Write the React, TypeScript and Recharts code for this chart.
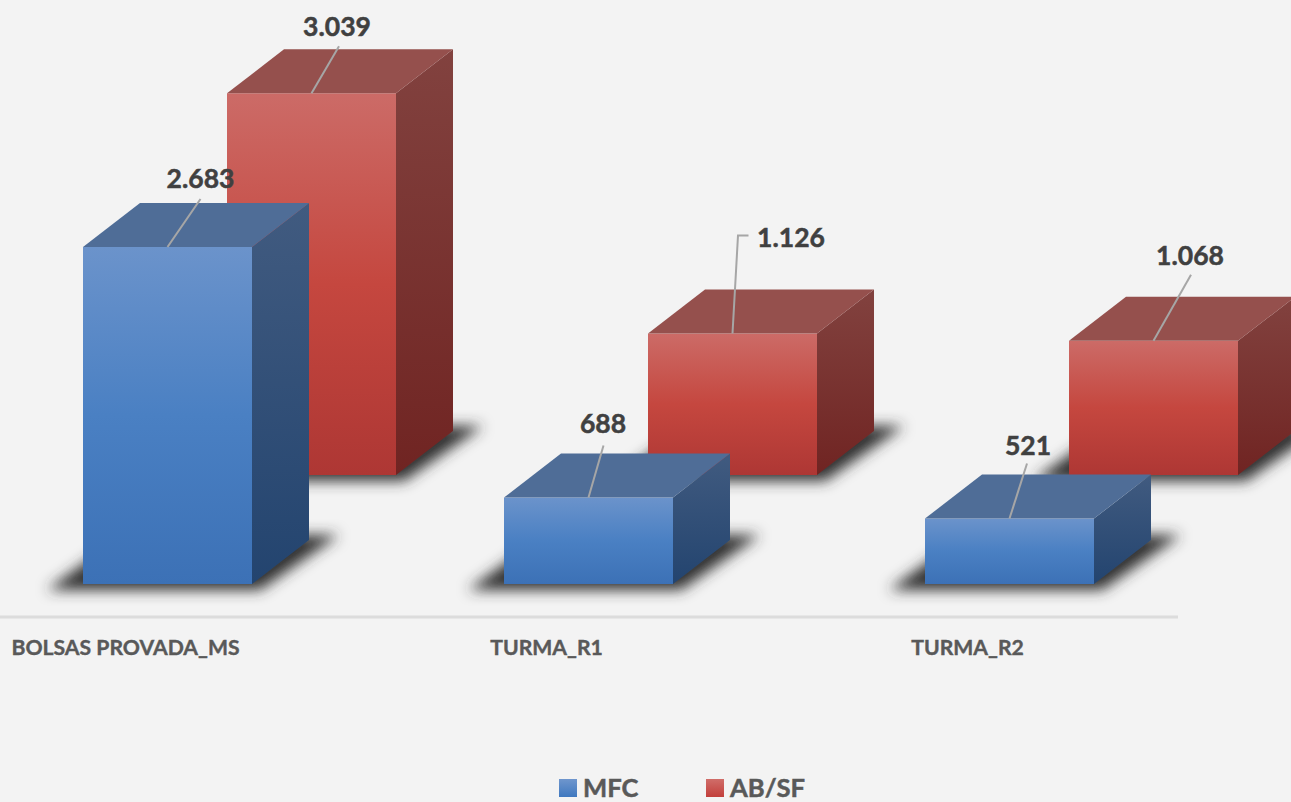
import React from 'react';
import { BarChart, Bar, XAxis, YAxis, Legend, LabelList } from 'recharts';

const categories = ['BOLSAS PROVADA_MS', 'TURMA_R1', 'TURMA_R2'];
const mfcValues = [2683, 688, 521];
const abSfValues = [3039, 1126, 1068];

const chartData = categories.map((name, i) => ({
  name,
  mfc: mfcValues[i],
  abSf: abSfValues[i],
}));

// leader line points and text centre, relative to the middle of the bar's top front edge
const mfcLeaders = [
  { line: [[33, -48]], text: [33, -69] },
  { line: [[15, -52]], text: [14.5, -75] },
  { line: [[17.5, -55]], text: [18.5, -74] },
];
const abSfLeaders = [
  { line: [[27.5, -47]], text: [25.5, -67] },
  { line: [[5.5, -98], [16, -98]], text: [58.5, -97] },
  { line: [[37.5, -66]], text: [36.5, -86] },
];

const FONT = 'Lato, Carlito, sans-serif';
const DEPTH_X = 57;
const DEPTH_Y = 44;

const formatPt = (v: number) => String(v).replace(/\B(?=(\d{3})+$)/g, '.');

const Box3D = ({ x, y, width, height, shiftX, lift, front, side, top }: any) => {
  const l = x + shiftX;
  const r = l + width;
  const t = y - lift;
  const b = t + height;
  const dx = DEPTH_X;
  const dy = DEPTH_Y;
  return (
    <g>
      <polygon
        points={`${l - 36},${b + 6} ${r + 8},${b + 6} ${r + dx + 30},${b - dy - 5} ${l + 40},${b - dy - 5}`}
        fill="#303030"
        filter="url(#floorBlur)"
      />
      <rect x={l} y={t} width={width} height={height} fill={`url(#${front})`} />
      <polygon points={`${r},${t} ${r + dx},${t - dy} ${r + dx},${b - dy} ${r},${b}`} fill={`url(#${side})`} />
      <polygon points={`${l},${t} ${l + dx},${t - dy} ${r + dx},${t - dy} ${r},${t}`} fill={top} />
    </g>
  );
};

const leaderLabel = (leaders: any[], shiftX: number, lift: number) => (props: any) => {
  const { x, y, width, value, index } = props;
  const ax = x + shiftX + width / 2;
  const ay = y - lift;
  const item = leaders[index];
  const pts = [[0, 0], ...item.line].map((p) => `${ax + p[0]},${ay + p[1]}`).join(' ');
  return (
    <g>
      <polyline points={pts} fill="none" stroke="#a6a6a6" strokeWidth={2} />
      <text
        x={ax + item.text[0]}
        y={ay + item.text[1]}
        textAnchor="middle"
        dominantBaseline="central"
        fontFamily={FONT}
        fontWeight={700}
        fontSize={26.5}
        fill="#404040"
        stroke="#404040"
        strokeWidth={0.5}
      >
        {formatPt(value)}
      </text>
    </g>
  );
};

const legendItems = [
  { name: 'MFC', swatch: 'linear-gradient(#6f96cd, #3f78bf)', left: 559 },
  { name: 'AB/SF', swatch: 'linear-gradient(#d06d69, #c23f3b)', left: 706 },
];

const LegendContent = () => (
  <div style={{ position: 'relative', width: 1291, height: 30 }}>
    {legendItems.map((it) => (
      <div key={it.name} style={{ position: 'absolute', left: it.left, top: 0, height: 30, display: 'flex', alignItems: 'center' }}>
        <span style={{ display: 'inline-block', width: 18, height: 18, marginTop: 2, background: it.swatch }} />
        <span style={{ marginLeft: 6, fontFamily: FONT, fontWeight: 700, fontSize: 25.6, color: '#595959', WebkitTextStroke: '0.5px #595959' }}>{it.name}</span>
      </div>
    ))}
  </div>
);

export default function App() {
  return (
    <div style={{ position: 'absolute', left: 0, top: 0, width: 1291, height: 802, background: '#f3f3f3', overflow: 'hidden' }}>
      <BarChart
        width={1291}
        height={802}
        data={chartData}
        barSize={169}
        barGap={-169}
        margin={{ top: 0, right: 113, bottom: 0, left: -85 }}
      >
        <defs>
          <linearGradient id="blueFront" x1="0" y1="0" x2="0" y2="1">
            <stop offset="0%" stopColor="#6b93cb" />
            <stop offset="50%" stopColor="#4a80c3" />
            <stop offset="100%" stopColor="#3c71b6" />
          </linearGradient>
          <linearGradient id="blueSide" x1="0" y1="0" x2="0" y2="1">
            <stop offset="0%" stopColor="#415b80" />
            <stop offset="100%" stopColor="#23446f" />
          </linearGradient>
          <linearGradient id="redFront" x1="0" y1="0" x2="0" y2="1">
            <stop offset="0%" stopColor="#cc6b67" />
            <stop offset="50%" stopColor="#c5473f" />
            <stop offset="100%" stopColor="#ae3734" />
          </linearGradient>
          <linearGradient id="redSide" x1="0" y1="0" x2="0" y2="1">
            <stop offset="0%" stopColor="#82423f" />
            <stop offset="100%" stopColor="#702422" />
          </linearGradient>
          <filter id="floorBlur" filterUnits="userSpaceOnUse" x="-100" y="0" width="1600" height="800">
            <feGaussianBlur stdDeviation="7" />
          </filter>
        </defs>
        <XAxis
          dataKey="name"
          interval={0}
          height={155}
          tickLine={false}
          axisLine={{ stroke: '#dcdcdc', strokeWidth: 3 }}
          tickMargin={17}
          tick={{ fill: '#595959', stroke: '#595959', strokeWidth: 0.4, fontFamily: FONT, fontWeight: 700, fontSize: 21.2 }}
        />
        <YAxis hide domain={[0, 4912]} />
        <Legend verticalAlign="bottom" height={30} content={<LegendContent />} wrapperStyle={{ left: 0, width: 1291, bottom: 0 }} />
        <Bar
          dataKey="abSf"
          name="AB/SF"
          isAnimationActive={false}
          shape={(p: any) => (
            <Box3D {...p} shiftX={186} lift={142} front="redFront" side="redSide" top="#95504d" />
          )}
        >
          <LabelList dataKey="abSf" content={leaderLabel(abSfLeaders, 186, 142)} />
        </Bar>
        <Bar
          dataKey="mfc"
          name="MFC"
          isAnimationActive={false}
          shape={(p: any) => (
            <Box3D {...p} shiftX={42} lift={33} front="blueFront" side="blueSide" top="#4f6d97" />
          )}
        >
          <LabelList dataKey="mfc" content={leaderLabel(mfcLeaders, 42, 33)} />
        </Bar>
      </BarChart>
    </div>
  );
}
